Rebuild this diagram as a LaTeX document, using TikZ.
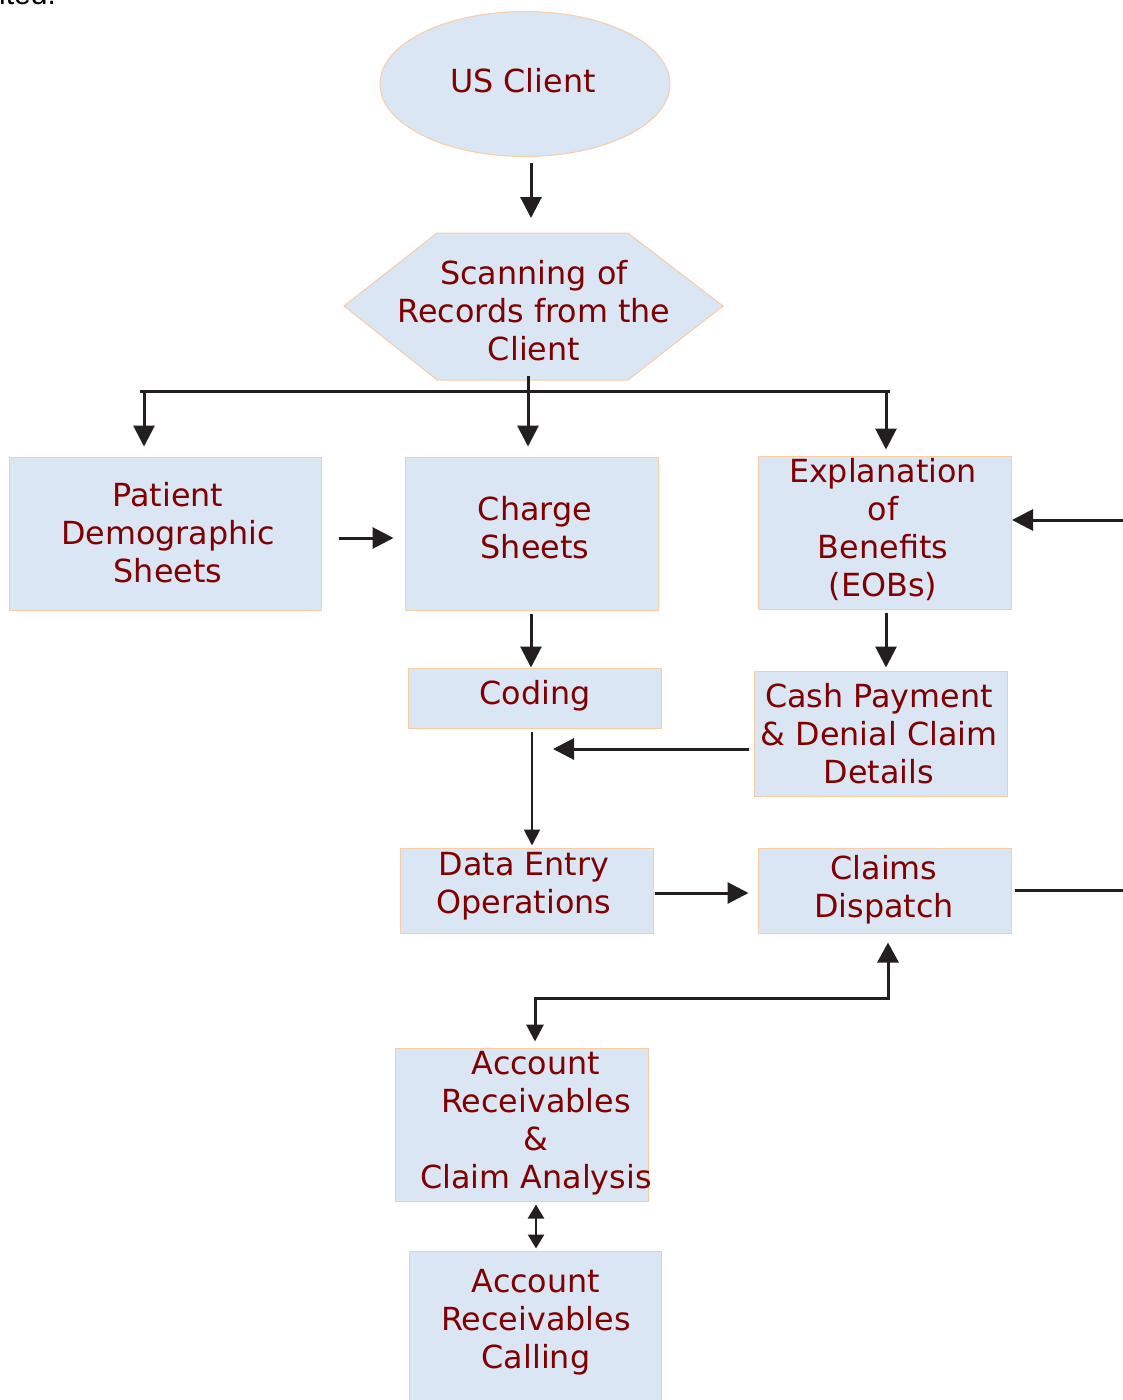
\documentclass[tikz,border=0pt]{standalone}
\usepackage{fontspec}
\setmainfont{DejaVu Sans}
\newfontfamily\arialf{Liberation Sans}
\usetikzlibrary{arrows.meta,shapes.geometric}
\definecolor{boxfill}{HTML}{DAE6F4}
\definecolor{boxline}{HTML}{F8CDA6}
\definecolor{txtred}{HTML}{800000}
\definecolor{arrowc}{HTML}{231F20}
\begin{document}
\begin{tikzpicture}[x=1pt,y=-1pt,
  box/.style={draw=boxline,fill=boxfill,line width=1pt,inner sep=0pt},
  lbl/.style={text=txtred,font=\fontsize{31.8}{38}\selectfont,align=center,inner sep=0pt},
  conn/.style={draw=arrowc,line width=3pt},
  arr/.style={conn,-{Triangle[length=21pt,width=21pt]}},
  arrs/.style={draw=arrowc,line width=2pt,-{Triangle[length=16pt,width=16pt]}},
  darr/.style={draw=arrowc,line width=2.5pt,{Triangle[length=14pt,width=16pt]}-{Triangle[length=14pt,width=16pt]}},
  udarr/.style={draw=arrowc,line width=3pt,{Triangle[length=20pt,width=21pt]}-{Triangle[length=17pt,width=17pt]}}
]
\useasboundingbox (0,0) rectangle (1123,1400);

% fragment of text at top-left
\node[anchor=base west,inner sep=0pt,font=\arialf\fontsize{30}{36}\selectfont] (frag) at (-1,5) {ited.};

% US Client
\node[box,ellipse,minimum width=290pt,minimum height=145pt] (usc) at (525,84) {};
\node[lbl] (usct) at (523,81) {US Client};

% Hexagon
\draw[box] (437,233) -- (628,233) -- (723,306) -- (628,380) -- (437,380) -- (344,306) -- cycle;
\node[lbl] (hex) at (534,311) {Scanning of\\Records from the\\Client};
\coordinate (hexb) at (528,376);
\coordinate (hexin) at (531,218);

% Boxes
\node[box,minimum width=312pt,minimum height=153pt] (pds) at (165,533.5) {};
\node[lbl] (pdst) at (168,533) {Patient\\Demographic\\Sheets};
\node[box,minimum width=253pt,minimum height=153pt] (chg) at (531.5,533.5) {};
\node[lbl] (chgt) at (535,528) {Charge\\Sheets};
\node[box,minimum width=253pt,minimum height=153pt] (eob) at (884.5,532.5) {};
\node[lbl] (eobt) at (883,530) {Explanation\\of\\Benefits\\(EOBs)};
\node[box,minimum width=253pt,minimum height=60pt] (cod) at (534.5,698) {};
\node[lbl] (codt) at (535,696) {Coding};
\node[box,minimum width=253pt,minimum height=125pt] (cash) at (880.5,733.5) {};
\node[lbl] (casht) at (879,734) {Cash Payment\\\&~Denial Claim\\Details};
\node[box,minimum width=253pt,minimum height=85pt] (dat) at (526.5,890.5) {};
\node[lbl] (datt) at (524,886) {Data Entry\\Operations};
\node[box,minimum width=253pt,minimum height=85pt] (clm) at (884.5,890.5) {};
\node[lbl] (clmt) at (884,890) {Claims\\Dispatch};
\node[box,minimum width=253pt,minimum height=153pt] (arc) at (521.5,1124.5) {};
\node[lbl] (arct) at (536,1123) {Account\\Receivables\\\&\\Claim Analysis};
\node[box,minimum width=252pt,minimum height=170pt] (cal) at (535,1336) {};
\node[lbl] (calt) at (536,1322) {Account\\Receivables\\Calling};

% Connectors
\draw[arr] ([xshift=6pt,yshift=-6pt]usc.south) -- (hexin);
\coordinate (busl) at (140,391);
\coordinate (busr) at (890,391);
\draw[conn] (busl) -- (busr);
\draw[arr] (144,391) -- ([yshift=10pt]pds.north -| 144,0);
\draw[arr] (hexb) -- ([xshift=-3.5pt,yshift=10pt]chg.north);
\draw[arr] (886,391) -- ([xshift=1.5pt,yshift=6pt]eob.north);
\draw[arr] ([xshift=17pt]pds.east |- 0,538) -- ([xshift=-11pt]chg.west |- 0,538);
\coordinate (eobin) at (1123,520);
\draw[arr] (eobin) -- (1012,520);
\draw[arr] ([yshift=-3pt]chg.south -| 531,0) -- (cod.north -| 531,0);
\draw[arr] ([yshift=-3pt]eob.south -| 886,0) -- ([yshift=3pt]cash.north -| 886,0);
\draw[arr] ([xshift=-5pt]cash.west |- 0,749) -- (553,749);
\draw[arrs] ([yshift=-3pt]cod.south -| 532,0) -- ([yshift=2pt]dat.north -| 532,0);
\draw[arr] ([xshift=1pt]dat.east |- 0,893) -- ([xshift=-9pt]clm.west |- 0,893);
\coordinate (clmout) at (1123,890);
\draw[conn] ([xshift=3pt]clm.east |- 0,890) -- (clmout);
\draw[udarr] ([yshift=-9pt]clm.south -| 888,0) -- (888,998) -- (535,998) -- ([yshift=6pt]arc.north -| 535,0);
\draw[darr] ([yshift=-3pt]arc.south -| 536,0) -- ([yshift=2pt]cal.north -| 536,0);
\end{tikzpicture}
\end{document}
